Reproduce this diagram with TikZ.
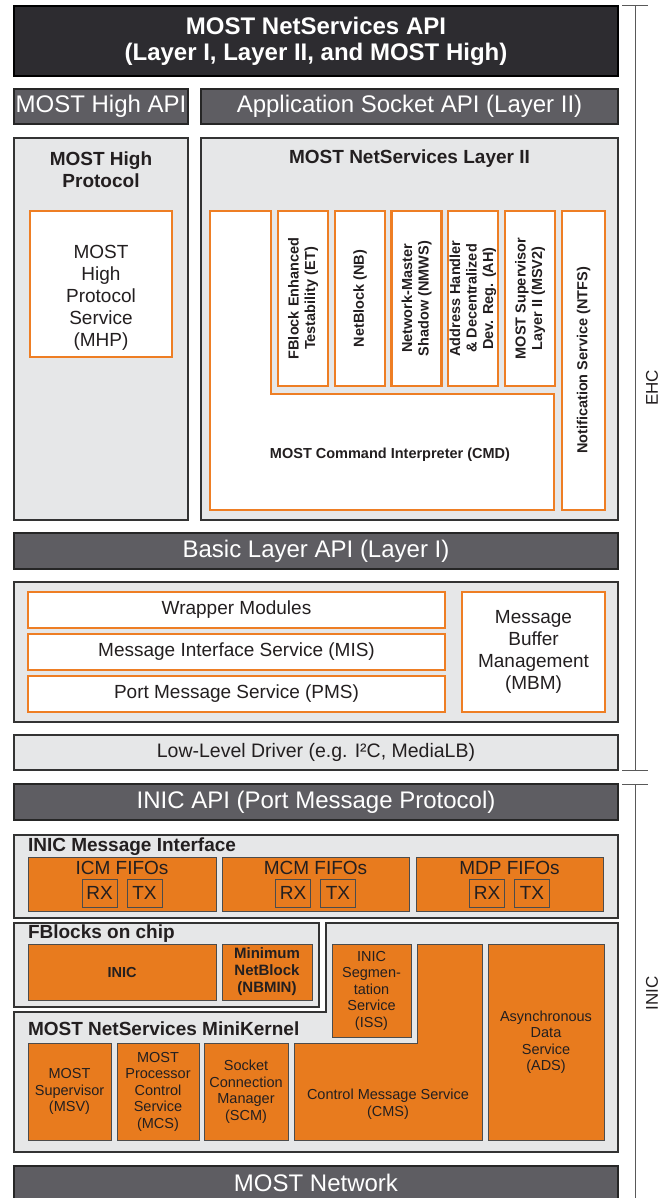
\documentclass[tikz,border=0pt]{standalone}
\usepackage{fontspec}
\setmainfont{Liberation Sans}
\definecolor{nsdark}{HTML}{2D2C30}
\definecolor{nsmid}{HTML}{5E5D62}
\definecolor{nslight}{HTML}{E6E7E8}
\definecolor{nsorange}{HTML}{E87B1E}
\definecolor{nsline}{HTML}{EE7E24}
\definecolor{nstext}{HTML}{231F20}
\begin{document}
\begin{tikzpicture}[x=1pt,y=-1pt,
    every node/.style={inner sep=0pt,outer sep=0pt,align=center,text=nstext},
    topbar/.style={fill=nsdark,draw=black,line width=1.6pt,text=white,font=\fontsize{24}{26}\selectfont\bfseries},
    apibar/.style={fill=nsmid,draw=black!85,line width=1.6pt,text=white,font=\fontsize{24}{27}\selectfont},
    layer/.style={fill=nslight,draw=black!80,line width=1.3pt},
    wbox/.style={fill=white,draw=nsline,line width=2.6pt},
    obox/.style={fill=nsorange,draw=black!70,line width=0.9pt},
    grptitle/.style={font=\fontsize{19}{22}\selectfont\bfseries},
    big/.style={font=\fontsize{19}{22}\selectfont},
    small/.style={font=\fontsize{14.5}{16.5}\selectfont},
    smallb/.style={font=\fontsize{14.5}{16.5}\selectfont\bfseries},
    brk/.style={draw=black!65,line width=1pt}]
    \useasboundingbox[fill=white] (0,0) rectangle (666,1198);
    \node[topbar,minimum width=604pt,minimum height=70pt] (NSAPI) at (316,41) {MOST NetServices API\\(Layer I, Layer II, and MOST High)};
    \node[apibar,minimum width=174pt,minimum height=35pt] (MHAPI) at (101,106.5) {MOST High API};
    \node[apibar,minimum width=417pt,minimum height=35pt] (ASAPI) at (409.5,106.5) {Application Socket API (Layer II)};
    \node[layer,minimum width=174pt,minimum height=382pt] (MHPgrp) at (101,329) {};
    \node[grptitle] (MHPtitle) at (101,170) {MOST High\\Protocol};
    \node[wbox,minimum width=142pt,minimum height=146pt] (MHP) at (101,284) {};
    \node[big] (MHPt) at (101,298) {MOST\\High\\Protocol\\Service\\(MHP)};
    \node[layer,minimum width=417pt,minimum height=382pt] (L2grp) at (409.5,329) {};
    \node[grptitle] (L2title) at (409.5,159) {MOST NetServices Layer II};
    \draw[wbox] (210,211) -- (271,211) -- (271,394) -- (554,394) -- (554,510) -- (210,510) -- cycle;
    \node[smallb] (CMD) at (390,455) {MOST Command Interpreter (CMD)};
    \node[wbox,smallb,rotate=90,minimum width=175pt,minimum height=50pt] (ET) at (303,298.5) {FBlock Enhanced\\Testability (ET)};
    \node[wbox,smallb,rotate=90,minimum width=175pt,minimum height=50pt] (NB) at (360,298.5) {NetBlock (NB)};
    \node[wbox,smallb,rotate=90,minimum width=175pt,minimum height=50pt] (NMWS) at (416.5,298.5) {Network-Master\\Shadow (NMWS)};
    \node[wbox,smallb,rotate=90,minimum width=175pt,minimum height=50pt] (AH) at (473,298.5) {Address Handler\\\& Decentralized\\Dev. Reg. (AH)};
    \node[wbox,smallb,rotate=90,minimum width=175pt,minimum height=50pt] (MSV2) at (530,298.5) {MOST Supervisor\\Layer II (MSV2)};
    \node[wbox,smallb,rotate=90,minimum width=299pt,minimum height=43pt] (NTFS) at (583.5,360.5) {Notification Service (NTFS)};
    \node[apibar,minimum width=604pt,minimum height=36pt] (BLAPI) at (316,551) {Basic Layer API (Layer I)};
    \node[layer,minimum width=604pt,minimum height=140pt] (BLgrp) at (316,652) {};
    \node[wbox,big,minimum width=417pt,minimum height=36pt] (WM) at (236.5,610) {Wrapper Modules};
    \node[wbox,big,minimum width=417pt,minimum height=36pt] (MIS) at (236.5,652) {Message Interface Service (MIS)};
    \node[wbox,big,minimum width=417pt,minimum height=36pt] (PMS) at (236.5,694) {Port Message Service (PMS)};
    \node[wbox,big,minimum width=143pt,minimum height=120pt] (MBM) at (533.5,652) {Message\\Buffer\\Management\\(MBM)};
    \node[layer,font=\fontsize{19.5}{22}\selectfont,minimum width=604pt,minimum height=35pt] (LLD) at (316,752.5) {Low-Level Driver (e.g. I²C, MediaLB)};
    \node[apibar,minimum width=604pt,minimum height=36pt] (INICAPI) at (316,802) {INIC API (Port Message Protocol)};
    \node[layer,minimum width=604pt,minimum height=83pt] (IMIgrp) at (316,876.5) {};
    \node[grptitle,anchor=west] (IMItitle) at (28,847) {INIC Message Interface};
    \node[obox,minimum width=188pt,minimum height=54pt] (ICM) at (122,884) {};
    \node[obox,minimum width=187pt,minimum height=54pt] (MCM) at (315.5,884) {};
    \node[obox,minimum width=187pt,minimum height=54pt] (MDP) at (509.5,884) {};
    \node[big] (ICMt) at (122,868) {ICM FIFOs};
    \node[big] (MCMt) at (315.5,868) {MCM FIFOs};
    \node[big] (MDPt) at (509.5,868) {MDP FIFOs};
    \node[obox,big,minimum width=35pt,minimum height=28pt] (ICMrx) at (99.5,893) {RX};
    \node[obox,big,minimum width=35pt,minimum height=28pt] (ICMtx) at (144.5,893) {TX};
    \node[obox,big,minimum width=35pt,minimum height=28pt] (MCMrx) at (293,893) {RX};
    \node[obox,big,minimum width=35pt,minimum height=28pt] (MCMtx) at (338,893) {TX};
    \node[obox,big,minimum width=35pt,minimum height=28pt] (MDPrx) at (487,893) {RX};
    \node[obox,big,minimum width=35pt,minimum height=28pt] (MDPtx) at (532,893) {TX};
    \node[layer,minimum width=305pt,minimum height=84pt] (FBgrp) at (166.5,965) {};
    \node[grptitle,anchor=west] (FBtitle) at (28,934) {FBlocks on chip};
    \node[obox,smallb,minimum width=188pt,minimum height=56pt] (INIC) at (122,972) {INIC};
    \node[obox,smallb,font=\fontsize{15}{17}\selectfont\bfseries,minimum width=90pt,minimum height=56pt] (NBMIN) at (267,972) {Minimum\\NetBlock\\(NBMIN)};
    \draw[layer] (14,1012) -- (326,1012) -- (326,923) -- (618,923) -- (618,1152) -- (14,1152) -- cycle;
    \node[grptitle,anchor=west] (MKtitle) at (28,1029) {MOST NetServices MiniKernel};
    \node[obox,small,minimum width=79pt,minimum height=93pt] (ISS) at (371.5,990.5) {INIC\\Segmen-\\tation\\Service\\(ISS)};
    \draw[obox] (294,1043) -- (417,1043) -- (417,944) -- (482,944) -- (482,1140) -- (294,1140) -- cycle;
    \node[small] (CMS) at (388,1104) {Control Message Service\\(CMS)};
    \node[obox,small,minimum width=116pt,minimum height=196pt] (ADS) at (546,1042) {Asynchronous\\Data\\Service\\(ADS)};
    \node[obox,small,minimum width=83pt,minimum height=97pt] (MSV) at (69.5,1091.5) {MOST\\Supervisor\\(MSV)};
    \node[obox,small,minimum width=82pt,minimum height=97pt] (MCS) at (158,1091.5) {MOST\\Processor\\Control\\Service\\(MCS)};
    \node[obox,small,minimum width=84pt,minimum height=97pt] (SCM) at (246,1091.5) {Socket\\Connection\\Manager\\(SCM)};
    \node[apibar,minimum width=604pt,minimum height=44pt] (NET) at (316,1188) {};
    \node[apibar,draw=none,fill=none] (NETt) at (316,1183) {MOST Network};
    \coordinate (EHCtop) at (635,6);
    \coordinate (EHCbot) at (635,770);
    \coordinate (INICtop) at (635,784);
    \coordinate (INICbot) at (635,1198);
    \draw[brk] (EHCtop) -- (EHCbot);
    \draw[brk] ([xshift=-13pt]EHCtop) -- ([xshift=13pt]EHCtop);
    \draw[brk] ([xshift=-13pt]EHCbot) -- ([xshift=13pt]EHCbot);
    \draw[brk] (INICtop) -- (INICbot);
    \draw[brk] ([xshift=-13pt]INICtop) -- ([xshift=13pt]INICtop);
    \node[rotate=90,font=\fontsize{17}{20}\selectfont] (EHC) at (652,388) {EHC};
    \node[rotate=90,font=\fontsize{17}{20}\selectfont] (INIClbl) at (652,993) {INIC};
\end{tikzpicture}
\end{document}
